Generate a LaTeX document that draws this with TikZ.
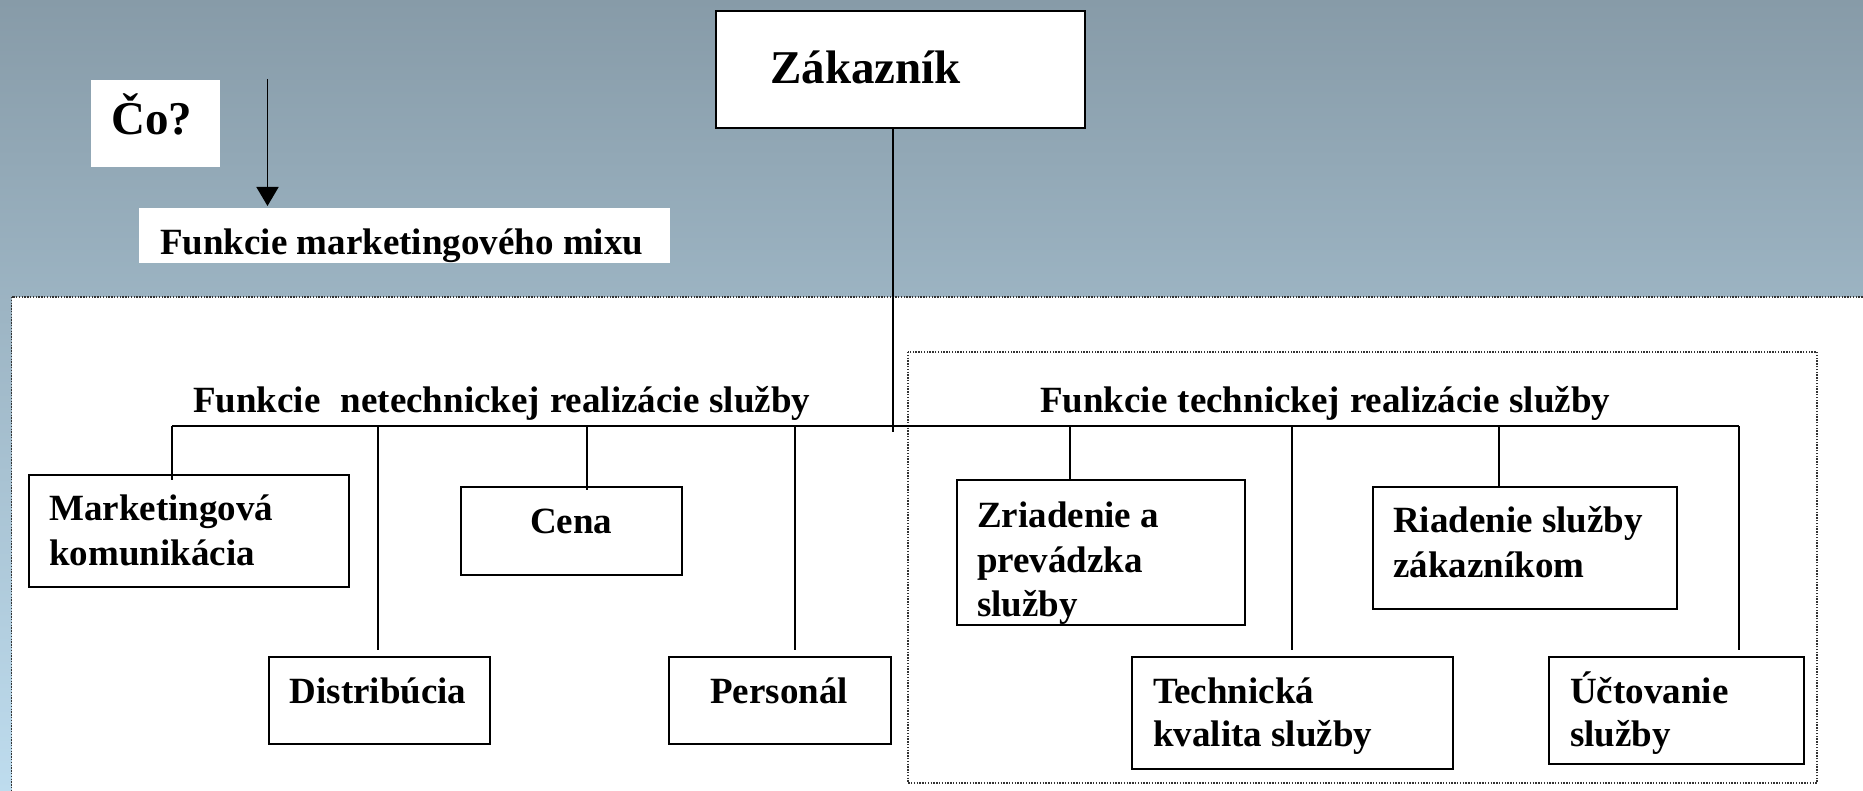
\documentclass[tikz,border=0pt]{standalone}
\usepackage{fontspec}
\setmainfont{Liberation Serif}
\usetikzlibrary{arrows.meta,calc}
\definecolor{bgtop}{RGB}{135,155,168}
\definecolor{bgbot}{RGB}{190,220,238}
\tikzset{
  boxN/.style={draw=black,line width=2pt,fill=white,rectangle,anchor=north west,inner sep=0pt},
  plainN/.style={fill=white,rectangle,anchor=north west,inner sep=0pt},
  txt/.style={anchor=base west,inner sep=0pt,font=\fontsize{37}{44}\selectfont\bfseries},
  bigtxt/.style={anchor=base west,inner sep=0pt,font=\fontsize{47}{56}\selectfont\bfseries},
  link/.style={draw=black,line width=2pt},
  dotframe/.style={draw=black!80,line width=1.3pt,dash pattern=on 1.4pt off 1.4pt}
}
\begin{document}
\begin{tikzpicture}[x=1pt,y=-1pt]
\useasboundingbox (0,0) rectangle (1863,791);
\clip (0,0) rectangle (1863,791);
% background gradient
\shade[top color=bgtop,bottom color=bgbot] (0,0) rectangle (1863,791);
% main white frame
\draw[dotframe,fill=white] (11.5,297) rectangle (1880,810);
% technical frame
\draw[dotframe] (908,352) rectangle (1817,783);

% top part
\node[boxN,minimum width=369pt,minimum height=117pt] (zak) at (715,10) {};
\node[bigtxt] (tzak) at (770,84) {Zákazník};
\node[plainN,minimum width=129pt,minimum height=87pt] (co) at (91,80) {};
\node[bigtxt] (tco) at (111,135) {Čo?};
\node[plainN,minimum width=531pt,minimum height=55pt] (mix) at (139,208) {};
\node[txt] (tmix) at (160,255) {Funkcie marketingového mixu};
\coordinate (arrtop) at (267.5,79);
\draw[link,line width=1.6pt,-{Triangle[length=19pt,width=22pt]},shorten >=2pt] (arrtop) -- (arrtop |- mix.north);

% headers
\node[txt] (hnet) at (193,412) {\makebox[617pt][s]{Funkcie\ \ netechnickej realizácie služby}};
\node[txt] (htech) at (1040,413) {\makebox[570pt][s]{Funkcie technickej realizácie služby}};

% boxes
\node[boxN,minimum width=320pt,minimum height=112pt] (mk) at (28,474) {};
\node[boxN,minimum width=221.5pt,minimum height=87pt] (dist) at (267.5,656) {};
\node[boxN,minimum width=221pt,minimum height=88pt] (cena) at (460,486) {};
\node[boxN,minimum width=222pt,minimum height=87pt] (pers) at (668,656) {};
\node[boxN,minimum width=288pt,minimum height=145pt] (zri) at (956,479) {};
\node[boxN,minimum width=321pt,minimum height=112pt] (tech) at (1131,656) {};
\node[boxN,minimum width=304pt,minimum height=122pt] (ria) at (1372,486) {};
\node[boxN,minimum width=255pt,minimum height=107pt] (uct) at (1548,656) {};

% texts
\node[txt] (tmk1) at (49,520) {Marketingová};
\node[txt] (tmk2) at (49,565) {komunikácia};
\node[txt] (tdist) at (289.5,703) {Distribúcia};
\node[txt] (tcena) at (530,533) {Cena};
\node[txt] (tpers) at (710,703) {Personál};
\node[txt] (tzri1) at (977,527) {Zriadenie a};
\node[txt] (tzri2) at (977,572) {prevádzka};
\node[txt] (tzri3) at (977,616) {služby};
\node[txt] (tria1) at (1393,532) {Riadenie služby};
\node[txt] (tria2) at (1393,577) {zákazníkom};
\node[txt] (ttech1) at (1153,703) {Technická};
\node[txt] (ttech2) at (1153,746) {kvalita služby};
\node[txt] (tuct1) at (1570,703) {Účtovanie};
\node[txt] (tuct2) at (1570,746) {služby};

% connectors
\coordinate (hub) at (892.6,432);
\coordinate (busL) at (172,426);
\coordinate (busR) at (1739,426);
\draw[link] (zak.south -| hub) -- (hub);
\draw[link] (busL) -- (busR);
\draw[link] (busL) -- ($(busL |- mk.north)+(0,6)$);
\draw[link,shorten >=6pt] (busL -| 378,0) -- (378,0 |- dist.north);
\draw[link] (busL -| 587,0) -- ($(587,0 |- cena.north)+(0,4)$);
\draw[link,shorten >=6pt] (busL -| 795,0) -- (795,0 |- pers.north);
\draw[link] (busL -| 1070,0) -- (1070,0 |- zri.north);
\draw[link,shorten >=6pt] (busL -| 1292,0) -- (1292,0 |- tech.north);
\draw[link] (busL -| 1499,0) -- (1499,0 |- ria.north);
\draw[link,shorten >=6pt] (busR) -- (busR |- uct.north);
\end{tikzpicture}
\end{document}
